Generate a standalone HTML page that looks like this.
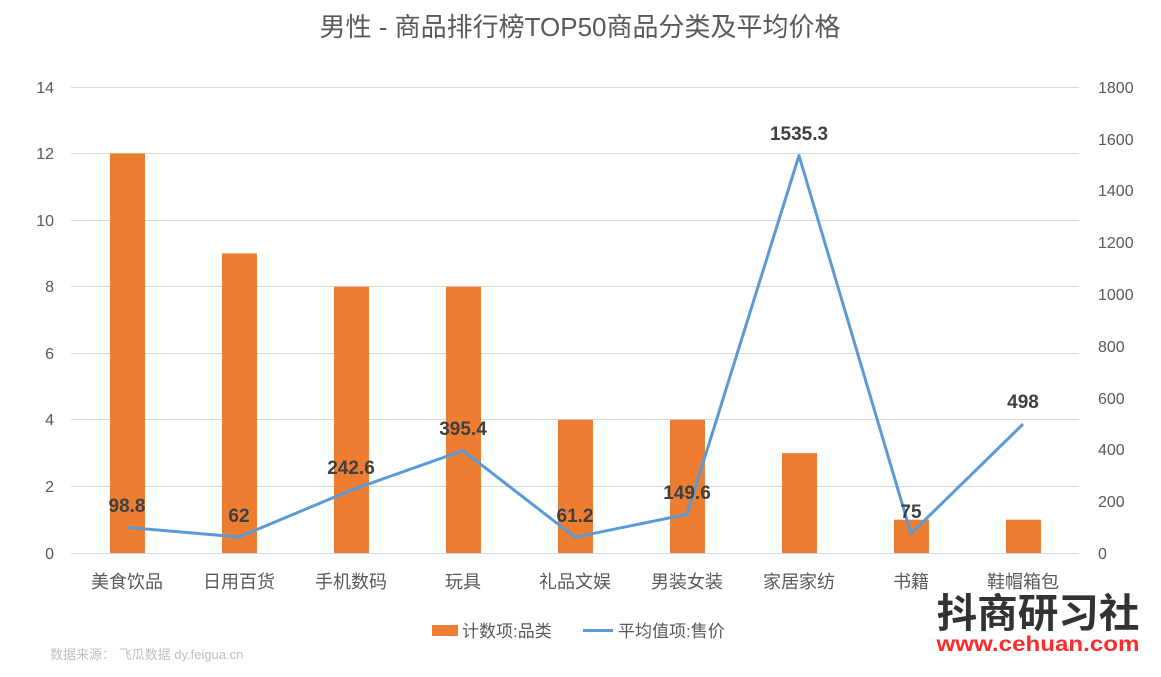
<!DOCTYPE html>
<html><head><meta charset="utf-8"><style>
html,body{margin:0;padding:0;background:#fff;}
svg text{font-family:"Liberation Sans","Noto Sans CJK SC",sans-serif;}
</style></head><body>
<svg width="1161" height="672" xmlns="http://www.w3.org/2000/svg">
<rect width="1161" height="672" fill="#fff"/>
<text x="580" y="36" text-anchor="middle" font-size="26" fill="#595959">男性 - 商品排行榜TOP50商品分类及平均价格</text>
<g stroke="#d9d9d9" stroke-width="1">
<line x1="71" x2="1079" y1="87.5" y2="87.5"/>
<line x1="71" x2="1079" y1="153.5" y2="153.5"/>
<line x1="71" x2="1079" y1="220.5" y2="220.5"/>
<line x1="71" x2="1079" y1="286.5" y2="286.5"/>
<line x1="71" x2="1079" y1="353.5" y2="353.5"/>
<line x1="71" x2="1079" y1="419.5" y2="419.5"/>
<line x1="71" x2="1079" y1="486.5" y2="486.5"/>
<line x1="71" x2="1079" y1="553.5" y2="553.5"/>
</g>
<g font-size="16" fill="#595959" text-anchor="end">
<text x="54" y="93">14</text><text x="54" y="159">12</text><text x="54" y="226">10</text>
<text x="54" y="292">8</text><text x="54" y="359">6</text><text x="54" y="425">4</text>
<text x="54" y="492">2</text><text x="54" y="559">0</text>
</g>
<g font-size="16" fill="#595959" text-anchor="start">
<text x="1098" y="93">1800</text><text x="1098" y="145">1600</text><text x="1098" y="196">1400</text>
<text x="1098" y="248">1200</text><text x="1098" y="300">1000</text><text x="1098" y="352">800</text>
<text x="1098" y="404">600</text><text x="1098" y="455">400</text><text x="1098" y="507">200</text>
<text x="1098" y="559">0</text>
</g>
<g fill="#ed7d31">
<rect x="110" y="153.5" width="35" height="399.5"/>
<rect x="222" y="253.4" width="35" height="299.6"/>
<rect x="334" y="286.7" width="35" height="266.3"/>
<rect x="446" y="286.7" width="35" height="266.3"/>
<rect x="558" y="419.8" width="35" height="133.2"/>
<rect x="670" y="419.8" width="35" height="133.2"/>
<rect x="782" y="453.1" width="35" height="99.9"/>
<rect x="894" y="519.7" width="35" height="33.3"/>
<rect x="1006" y="519.7" width="35" height="33.3"/>
</g>
<polyline fill="none" stroke="#5b9bd5" stroke-width="3" stroke-linejoin="round" points="127,527.4 239,537 351,490.2 463,450.6 575,537.2 687,514.3 799,155.5 911,533.6 1023,424.1"/>
<g font-size="19" font-weight="bold" fill="#404040" text-anchor="middle">
<text x="127" y="512">98.8</text><text x="239" y="522">62</text><text x="351" y="474">242.6</text>
<text x="463" y="435">395.4</text><text x="575" y="522">61.2</text><text x="687" y="499">149.6</text>
<text x="799" y="140">1535.3</text><text x="911" y="518">75</text><text x="1023" y="408">498</text>
</g>
<g font-size="18" fill="#595959" text-anchor="middle">
<text x="127" y="588">美食饮品</text><text x="239" y="588">日用百货</text><text x="351" y="588">手机数码</text>
<text x="463" y="588">玩具</text><text x="575" y="588">礼品文娱</text><text x="687" y="588">男装女装</text>
<text x="799" y="588">家居家纺</text><text x="911" y="588">书籍</text><text x="1023" y="588">鞋帽箱包</text>
</g>
<rect x="432" y="625" width="26" height="11" fill="#ed7d31"/>
<text x="462" y="637" font-size="17" fill="#595959">计数项:品类</text>
<line x1="583" x2="613" y1="630.5" y2="630.5" stroke="#5b9bd5" stroke-width="3"/>
<text x="618" y="637" font-size="17" fill="#595959">平均值项:售价</text>
<text x="50" y="659" font-size="13" fill="#bfbfbf">数据来源： 飞瓜数据 dy.feigua.cn</text>
<text x="1038" y="627" text-anchor="middle" font-size="40" font-weight="bold" fill="#333" textLength="203" lengthAdjust="spacingAndGlyphs">抖商研习社</text>
<text x="1038" y="651" text-anchor="middle" font-size="21" font-weight="bold" fill="#ff2a2a" textLength="203" lengthAdjust="spacingAndGlyphs">www.cehuan.com</text>
</svg>
</body></html>
